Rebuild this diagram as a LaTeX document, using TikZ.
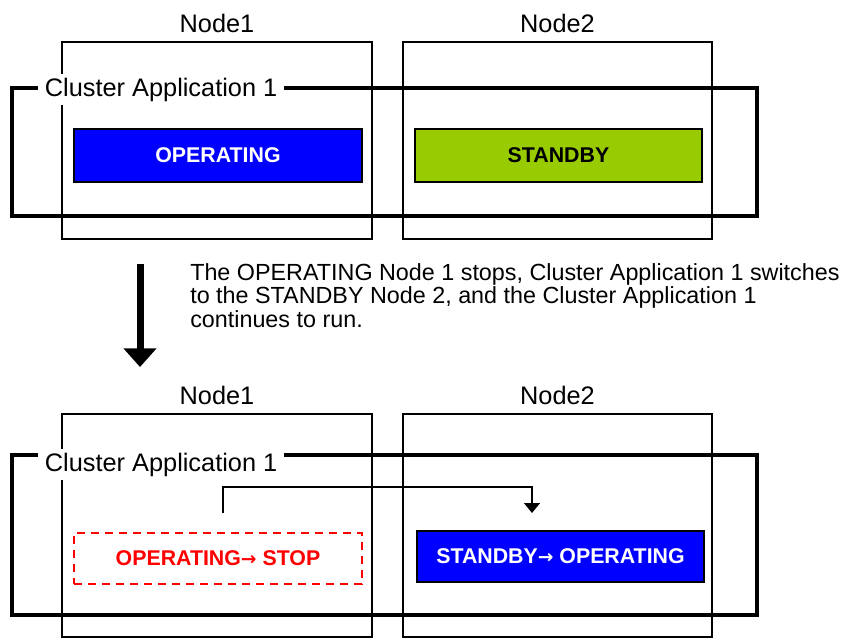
\documentclass[tikz,border=0pt]{standalone}
\usepackage{fontspec}
\setmainfont{Liberation Sans}
\newfontfamily\arrowfont{DejaVu Sans}
\usetikzlibrary{arrows.meta,fit}
\definecolor{opblue}{RGB}{0,0,255}
\definecolor{sbgreen}{RGB}{153,204,0}
\definecolor{stopred}{RGB}{255,0,0}
\newcommand{\toarrow}{{\arrowfont\fontsize{14}{16}\selectfont→}}
\tikzset{
    hostbox/.style={draw,line width=1.1pt,inner sep=0pt,
        label={[font=\fontsize{19}{22}\selectfont,inner sep=6pt]above:#1}},
    clusterframe/.style={draw,line width=2.6pt,inner sep=0pt},
    applabel/.style={fill=white,inner xsep=5pt,inner ysep=3pt,
        font=\fontsize{19}{22}\selectfont},
    statebox/.style={draw,line width=1.1pt,minimum width=216pt,
        font=\bfseries\fontsize{16}{18}\selectfont},
    switchline/.style={line width=1pt,-{Triangle[width=12pt,length=7.5pt]}},
    bigarrow/.style={line width=5.25pt,-{Triangle[width=24pt,length=14pt]}},
    note/.style={align=left,inner sep=0pt,
        font=\fontsize{17.5}{17.6}\selectfont}
}

\begin{document}
\begin{tikzpicture}[x=0.75pt,y=-0.75pt,line join=miter]
    \useasboundingbox (0,0) rectangle (853,639);
    % before the switch
    \node[hostbox=Node1,fit={(62,42) (372,239)}] (hostA1) {};
    \node[hostbox=Node2,fit={(403,42) (712,239)}] (hostA2) {};
    \node[clusterframe,fit={(12,88) (757,216)}] (clusterA) {};
    \node[applabel,anchor=base west] (appA) at (38,96) {Cluster Application 1};
    \node[statebox,fill=opblue,text=white,minimum height=39.75pt] (opA) at (218,155.5) {OPERATING};
    \node[statebox,fill=sbgreen,text=black,minimum height=39.75pt,minimum width=215.25pt] (sbA) at (558.5,155.5) {STANDBY};

    \coordinate (stepTop) at (140,264);
    \coordinate (stepEnd) at (140,367);
    \draw[bigarrow] (stepTop) -- (stepEnd);
    \node[note,anchor=north west] (noteText) at (190,263)
        {The OPERATING Node 1 stops, Cluster Application 1 switches\\
         to the STANDBY Node 2, and the Cluster Application 1\\
         continues to run.};

    % after the switch
    \node[hostbox=Node1,fit={(62,414) (372,637)}] (hostB1) {};
    \node[hostbox=Node2,fit={(403,414) (712,637)}] (hostB2) {};
    \node[clusterframe,fit={(12,455) (757,615)}] (clusterB) {};
    \node[applabel,anchor=base west] (appB) at (38,471) {Cluster Application 1};
    \node[statebox,draw=stopred,dashed,dash pattern=on 6pt off 4.5pt,text=stopred,minimum height=38.25pt] (stopB) at (218,558.5) {OPERATING\toarrow{} STOP};
    \node[statebox,fill=opblue,text=white,minimum height=38.25pt,minimum width=215.25pt] (opB) at (560.5,556.5) {STANDBY\toarrow{} OPERATING};

    \coordinate (swFrom) at (223,513);
    \coordinate (swTo) at (532,513);
    \draw[switchline] (swFrom) -- ++(0,-26) -| (swTo);
\end{tikzpicture}
\end{document}
